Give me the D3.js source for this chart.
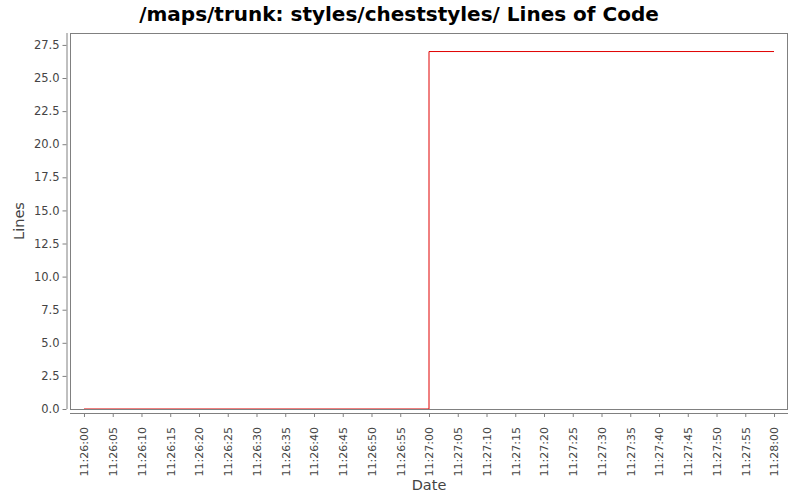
<!DOCTYPE html>
<html>
<head>
<meta charset="utf-8">
<script src="https://cdn.jsdelivr.net/npm/d3@7"></script>
<style>
  body { margin: 0; background: #fff; }
  text { font-family: "DejaVu Sans", sans-serif; }
</style>
</head>
<body>
<svg id="chart" width="800" height="500"></svg>
<script>
// step series: time (seconds after 11:26:00) and lines of code
const times = [0, 60, 60, 120];
const lines = [0, 0, 27, 27];
const yTicks = d3.range(0, 27.6, 2.5);

const base = new Date(2000, 0, 1, 11, 26, 0);
const dates = times.map(s => new Date(base.getTime() + s * 1000));

const svg = d3.select("#chart");
const plot = { left: 70, right: 788, top: 33, bottom: 409 };

const x = d3.scaleTime()
  .domain([new Date(base.getTime() - 2430), new Date(base.getTime() + 122430)])
  .range([plot.left, plot.right]);
const y = d3.scaleLinear()
  .domain([0, 28.4])
  .range([plot.bottom, plot.top]);

svg.append("rect")
  .attr("width", 800).attr("height", 500).attr("fill", "#fff");

// title
svg.append("text")
  .attr("x", 399).attr("y", 21)
  .attr("text-anchor", "middle")
  .attr("font-size", 20).attr("font-weight", "bold")
  .attr("fill", "#000")
  .text("/maps/trunk: styles/cheststyles/ Lines of Code");

// y axis
const yAxis = svg.append("g")
  .attr("transform", `translate(${plot.left - 3.5},0)`)
  .call(d3.axisLeft(y).tickValues(yTicks).tickFormat(d3.format(".1f")).tickSizeOuter(0).tickSize(4).tickPadding(3));
yAxis.select(".domain").attr("stroke", "#808080").attr("d", `M0.5,${plot.top}V${plot.bottom}`);
yAxis.selectAll(".tick line").attr("stroke", "#808080");
yAxis.selectAll("text").attr("fill", "#444").attr("font-size", 11.5);

// x axis
const xTicks = d3.range(0, 121, 5).map(s => new Date(base.getTime() + s * 1000));
const xAxis = svg.append("g")
  .attr("transform", `translate(0,${plot.bottom + 4})`)
  .call(d3.axisBottom(x).tickValues(xTicks).tickFormat(d3.timeFormat("%H:%M:%S")).tickSizeOuter(0).tickSize(4));
xAxis.select(".domain").attr("stroke", "#808080").attr("d", `M${plot.left},0.5H${plot.right}`);
xAxis.selectAll(".tick line").attr("stroke", "#808080");
xAxis.selectAll("text")
  .attr("fill", "#444").attr("font-size", 11)
  .attr("transform", "rotate(-90)")
  .attr("text-anchor", "end")
  .attr("x", -14).attr("y", 0).attr("dy", "0.35em");

// axis labels
svg.append("text")
  .attr("transform", `translate(24,${(plot.top + plot.bottom) / 2}) rotate(-90)`)
  .attr("text-anchor", "middle")
  .attr("font-size", 14.5).attr("fill", "#444")
  .text("Lines");
svg.append("text")
  .attr("x", (plot.left + plot.right) / 2).attr("y", 490)
  .attr("text-anchor", "middle")
  .attr("font-size", 14.5).attr("fill", "#444")
  .text("Date");

// series
const line = d3.line()
  .x((d, i) => x(d))
  .y((d, i) => y(lines[i]));
svg.append("path")
  .datum(dates)
  .attr("d", line)
  .attr("fill", "none")
  .attr("stroke", "#e00000")
  .attr("stroke-width", 1);

// plot border
svg.append("rect")
  .attr("x", plot.left + 0.5).attr("y", plot.top + 0.5)
  .attr("width", plot.right - plot.left - 1).attr("height", plot.bottom - plot.top)
  .attr("fill", "none")
  .attr("stroke", "#808080");
</script>
</body>
</html>
